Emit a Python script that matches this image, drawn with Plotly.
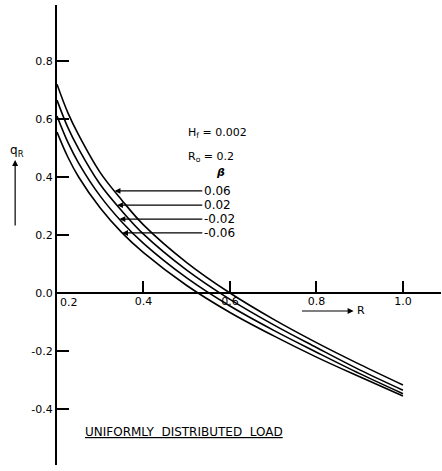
import numpy as np
import plotly.graph_objects as go

# ---- data ----
R = [0.2, 0.225, 0.25, 0.3, 0.35, 0.4, 0.5, 0.6, 0.7, 0.8, 0.9, 1.0]
q_beta_p006 = [0.72, 0.622, 0.545, 0.415, 0.32, 0.235, 0.105, 0.0, -0.09, -0.171, -0.246, -0.317]
q_beta_p002 = [0.665, 0.571, 0.497, 0.374, 0.283, 0.203, 0.079, -0.022, -0.109, -0.188, -0.265, -0.335]
q_beta_m002 = [0.61, 0.520, 0.448, 0.334, 0.245, 0.171, 0.052, -0.045, -0.128, -0.204, -0.278, -0.347]
q_beta_m006 = [0.555, 0.469, 0.40, 0.293, 0.208, 0.139, 0.026, -0.067, -0.147, -0.221, -0.289, -0.355]

beta_labels = ["0.06", "0.02", "-0.02", "-0.06"]
beta_label_q = [0.352, 0.303, 0.255, 0.207]
beta_label_R = 0.536

x_tick_vals = [0.4, 0.6, 0.8, 1.0]
x_tick_text = ["0.4", "0.6", "0.8", "1.0"]
y_tick_vals = [0.8, 0.6, 0.4, 0.2, 0.0, -0.2, -0.4]
y_tick_text = ["0.8", "0.6", "0.4", "0.2", "0.0", "-0.2", "-0.4"]

series = [q_beta_p006, q_beta_p002, q_beta_m002, q_beta_m006]

FONT = "DejaVu Sans"
fig = go.Figure()
for q in series:
    fig.add_trace(go.Scatter(x=R, y=q, mode="lines",
                             line=dict(color="black", width=1.6, shape="spline", smoothing=1.0),
                             showlegend=False, hoverinfo="skip"))

XR = [0.2, 1.088]
YR = [-0.593, 0.993]
ypos0 = (0 - YR[0]) / (YR[1] - YR[0])

fig.update_layout(
    width=442, height=471,
    margin=dict(l=57, r=1, t=5, b=6),
    paper_bgcolor="white", plot_bgcolor="white",
    font=dict(family=FONT, size=11, color="black"),
    xaxis=dict(range=XR, tickvals=x_tick_vals, ticktext=x_tick_text,
               ticks="inside", ticklen=12, tickwidth=1.5, tickcolor="black",
               anchor="free", position=ypos0, showline=False, showgrid=False,
               zeroline=False, tickfont=dict(size=11)),
    yaxis=dict(range=YR, tickvals=y_tick_vals, ticktext=y_tick_text,
               ticks="inside", ticklen=12, tickwidth=1.5, tickcolor="black",
               showline=True, linewidth=2, linecolor="black", showgrid=False,
               zeroline=True, zerolinewidth=2, zerolinecolor="black",
               tickfont=dict(size=11)),
)

ann = []
# x label 0.2 next to origin
ann.append(dict(x=0.2, y=0, xref="x", yref="y", text="0.2", showarrow=False,
                xanchor="left", yanchor="top", xshift=1, yshift=-1, font=dict(size=11)))

# beta pointer arrows
for lab, qv, curve in zip(beta_labels, beta_label_q, series):
    r_target = float(np.interp(qv, curve[::-1], R[::-1]))
    ann.append(dict(x=r_target, y=qv, xref="x", yref="y",
                    ax=beta_label_R, ay=qv, axref="x", ayref="y",
                    text=lab, showarrow=True, arrowhead=2, arrowsize=0.9,
                    arrowwidth=1.3, arrowcolor="black", standoff=0,
                    xanchor="left", yanchor="middle", font=dict(size=12)))

ann.append(dict(x=0.499, y=0.552, xref="x", yref="y", text="H<sub>f</sub> = 0.002",
                showarrow=False, xanchor="left", yanchor="middle", font=dict(size=11)))
ann.append(dict(x=0.499, y=0.469, xref="x", yref="y", text="R<sub>o</sub> = 0.2",
                showarrow=False, xanchor="left", yanchor="middle", font=dict(size=11)))
ann.append(dict(x=0.562, y=0.417, xref="x", yref="y", text="<i><b>β</b></i>",
                showarrow=False, xanchor="left", yanchor="middle", font=dict(size=11)))

# R arrow under the x axis
ann.append(dict(x=0.886, y=-0.062, xref="x", yref="y", ax=0.763, ay=-0.062,
                axref="x", ayref="y", text="", showarrow=True, arrowhead=2,
                arrowsize=1, arrowwidth=1.2, arrowcolor="black"))
ann.append(dict(x=0.89, y=-0.062, xref="x", yref="y", text="R", showarrow=False,
                xanchor="left", yanchor="middle", font=dict(size=11)))

# q_R label and upward arrow
ann.append(dict(x=-0.104, y=0.683, xref="paper", yref="paper", text="q<sub>R</sub>",
                showarrow=False, xanchor="center", yanchor="middle", font=dict(size=12)))
ann.append(dict(x=-0.109, y=0.663, xref="paper", yref="paper", ax=0, ay=67,
                text="", showarrow=True, arrowhead=2, arrowsize=1,
                arrowwidth=1.2, arrowcolor="black"))

# caption
ann.append(dict(x=0.259, y=-0.479, xref="x", yref="y",
                text="<u>UNIFORMLY  DISTRIBUTED  LOAD</u>", showarrow=False,
                xanchor="left", yanchor="middle", font=dict(size=12)))

fig.update_layout(annotations=ann)
fig.write_html("out.html")
